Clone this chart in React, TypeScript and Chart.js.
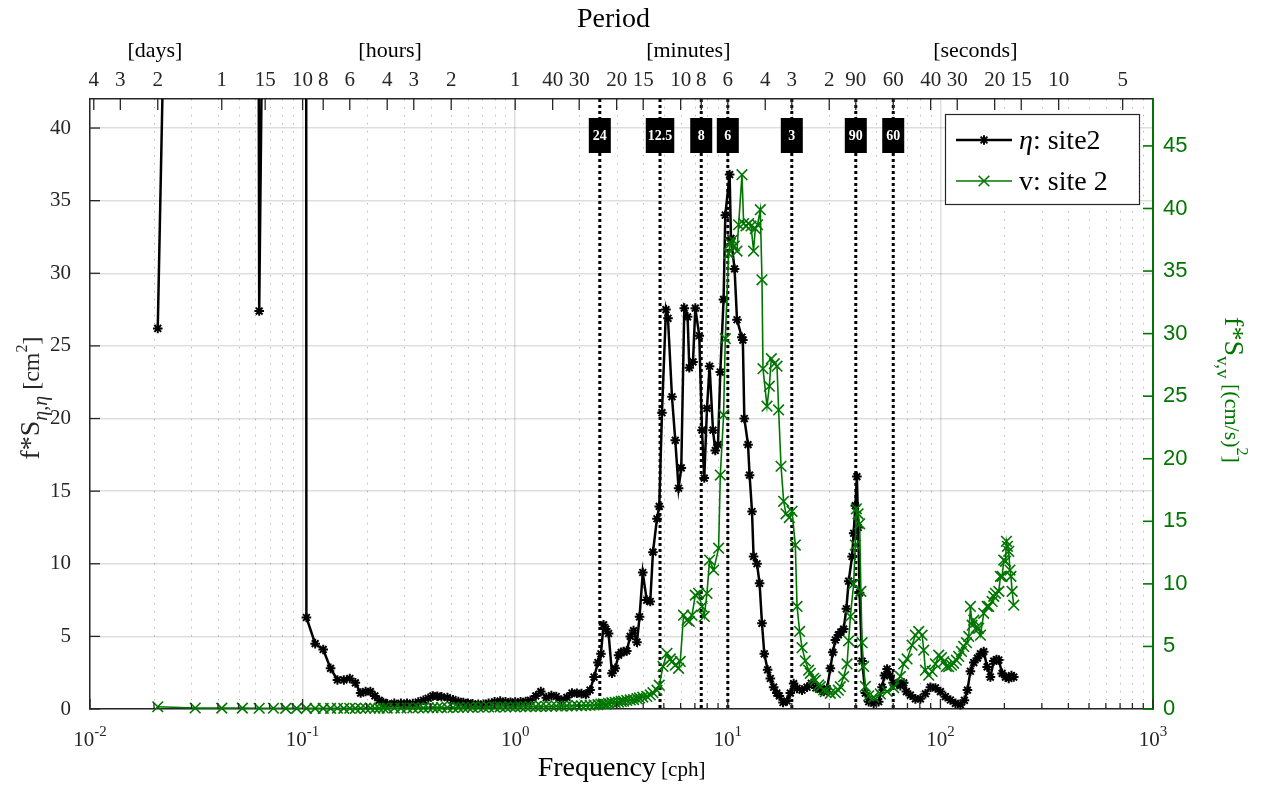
import React, { useEffect, useRef } from 'react';
import { Chart, registerables } from 'chart.js';

Chart.register(...registerables);

// ---------------- data ----------------
// frequency grid (cph) shared by both series at low / mid frequencies
const lowFreq = [0.02083, 0.03125, 0.04167, 0.05208, 0.0625, 0.07292, 0.08333, 0.09375, 0.1042, 0.1146, 0.125, 0.1354, 0.1458, 0.1563, 0.1667, 0.1771, 0.1875, 0.1979, 0.2083, 0.2188, 0.2292, 0.2396, 0.25];
const midFreq = [0.27, 0.29, 0.31, 0.33, 0.35, 0.37, 0.39, 0.41, 0.43, 0.45, 0.48, 0.51, 0.54, 0.57, 0.6, 0.63, 0.67, 0.71, 0.75, 0.8, 0.85, 0.9, 0.95, 1.0, 1.06, 1.12, 1.18, 1.25, 1.32, 1.4, 1.48, 1.56, 1.65, 1.75, 1.85, 1.95, 2.05, 2.15, 2.25, 2.35, 2.45];

// eta: site2 (left axis, cm^2)
const etaLow = [26.2, 154, 400, 600, 27.4, 120, 300, 2000, 6.3, 4.5, 4.1, 2.8, 2.0, 2.0, 2.1, 1.8, 1.1, 1.2, 1.2, 0.9, 0.6, 0.45, 0.35];
const etaMid = [0.39, 0.39, 0.4, 0.38, 0.48, 0.6, 0.74, 0.9, 0.88, 0.84, 0.78, 0.64, 0.52, 0.45, 0.4, 0.36, 0.33, 0.32, 0.4, 0.5, 0.55, 0.5, 0.46, 0.48, 0.5, 0.52, 0.6, 0.9, 1.2, 0.78, 0.92, 0.86, 0.62, 0.8, 1.1, 1.08, 1.06, 1.0, 1.3, 2.2, 3.2];
const etaHighFreq = [2.531, 2.604, 2.667, 2.749, 2.852, 2.955, 3.063, 3.154, 3.233, 3.347,
  3.477, 3.603, 3.738, 3.845, 3.981, 4.157, 4.318, 4.446, 4.643, 4.760,
  4.902, 5.119, 5.231, 5.463, 5.662, 5.868, 6.042, 6.242, 6.470, 6.591,
  6.860, 7.034, 7.342, 7.560, 7.751, 7.981, 8.210, 8.518, 8.734, 8.994,
  9.220, 9.555, 9.732, 10.20, 10.35, 10.76, 11.05, 11.64, 11.77, 11.96,
  12.45, 12.66, 13.00, 13.22, 13.72, 14.11, 14.48, 14.85, 15.39, 15.85,
  16.43, 17.01, 17.48, 18.19, 18.99, 19.68, 20.40, 21.17, 22.35, 23.59,
  24.71, 25.95, 27.25, 28.30, 29.30, 30.37, 31.20, 32.06, 33.11, 34.02,
  35.07, 36.11, 37.03, 38.42, 39.08, 39.81, 40.47, 41.04, 41.67, 42.81,
  44.37, 45.99, 48.55, 51.25, 53.18, 54.53, 56.15, 57.88, 60.11, 62.56,
  64.84, 67.20, 69.18, 72.24, 76.28, 80.52, 85.01, 89.74, 94.74, 100,
  105.6, 111.4, 117.7, 124.2, 129.7, 134.0, 138.4, 143.5, 149.3, 154.3,
  159.9, 165.9, 171.9, 178.2, 183.5, 188.2, 195.2, 202.3, 209.6, 215.8, 221.3];
const etaHighVal = [3.8, 5.8, 5.5, 5.2, 2.46, 2.8, 3.7, 3.9, 3.95, 4.0,
  5.0, 5.4, 4.6, 6.35, 9.4, 7.5, 7.4, 10.8, 13.1, 13.95,
  20.4, 27.5, 26.9, 21.5, 18.5, 15.2, 16.6, 27.6, 27.0, 23.5,
  23.9, 27.6, 25.7, 19.2, 15.9, 20.7, 23.6, 19.2, 17.8, 18.2,
  23.2, 28.2, 34.0, 36.8, 32.4, 30.3, 26.8, 25.6, 25.4, 20.0,
  18.2, 16.1, 13.6, 10.5, 10.0, 8.65, 5.9, 3.8, 2.7, 2.1,
  1.5, 1.1, 0.9, 0.45, 0.55, 1.1, 1.75, 1.42, 1.3, 1.5,
  1.77, 1.45, 1.35, 1.2, 1.4, 2.8, 3.9, 4.75, 5.1, 5.3,
  5.5, 6.9, 8.8, 10.5, 12.1, 14.0, 16.0, 12.5, 8.0, 3.3,
  1.1, 0.5, 0.4, 0.5, 1.5, 2.3, 2.75, 2.3, 1.8, 1.75,
  1.6, 1.8, 1.2, 0.95, 0.7, 0.7, 1.05, 1.5, 1.45, 1.2,
  0.85, 0.62, 0.39, 0.3, 0.6, 1.3, 2.6, 3.2, 3.5, 3.8,
  3.95, 2.9, 2.2, 3.3, 3.4, 3.37, 2.45, 2.2, 2.1, 2.3, 2.2];

// v: site 2 (right axis, (cm/s)^2)
const velLow = [0.18, 0.08, 0.07, 0.07, 0.06, 0.06, 0.05, 0.05, 0.05, 0.05, 0.05, 0.05, 0.06, 0.05, 0.06, 0.05, 0.06, 0.06, 0.07, 0.06, 0.07, 0.08, 0.07];
const velMid = [0.08, 0.07, 0.09, 0.08, 0.1, 0.09, 0.1, 0.11, 0.1, 0.12, 0.11, 0.12, 0.13, 0.12, 0.14, 0.13, 0.15, 0.14, 0.16, 0.15, 0.17, 0.16, 0.18, 0.17, 0.19, 0.18, 0.2, 0.19, 0.21, 0.2, 0.22, 0.24, 0.23, 0.25, 0.24, 0.27, 0.26, 0.28, 0.3, 0.32, 0.35];
const velHighFreq = [2.531, 2.604, 2.667, 2.749, 2.852, 2.955, 3.063, 3.154, 3.233, 3.347,
  3.477, 3.603, 3.738, 3.845, 3.981, 4.157, 4.318, 4.446, 4.643, 4.760,
  4.955, 5.175, 5.363, 5.463, 5.662, 5.868, 5.976, 6.194, 6.427, 6.591,
  6.785, 7.034, 7.287, 7.560, 7.751, 7.981, 8.210, 8.574, 9.052, 9.220,
  9.555, 9.732, 10.09, 10.27, 10.53, 10.73, 11.05, 11.24, 11.66, 11.87,
  12.18, 12.53, 12.86, 13.22, 13.47, 13.81, 14.22, 14.48, 14.64, 15.29,
  15.68, 16.02, 16.55, 17.04, 17.34, 17.80, 18.31, 18.79, 19.47, 20.05,
  20.78, 21.17, 21.77, 22.35, 23.16, 24.00, 24.45, 25.33, 25.81, 26.75,
  27.25, 28.24, 28.77, 30.37, 32.06, 33.11, 33.84, 35.07, 36.39, 37.03,
  37.72, 39.08, 39.81, 40.25, 41.00, 41.71, 42.26, 42.81, 43.56, 44.37,
  45.99, 48.55, 52.20, 56.15, 60.31, 64.84, 67.20, 69.70, 73.58, 76.28,
  79.06, 82.03, 83.47, 85.01, 88.10, 91.41, 94.74, 98.18, 101.1, 103.6,
  106.7, 109.4, 112.7, 115.5, 118.9, 121.9, 125.6, 128.7, 132.6, 135.9,
  138.4, 141.0, 143.5, 147.7, 151.4, 154.3, 159.9, 165.9, 168.8, 175.1,
  178.2, 181.5, 188.2, 191.6, 195.2, 198.6, 202.3, 204.5, 206.7, 209.6,
  212.4, 214.7, 217.5, 221.3];
const velHighVal = [0.4, 0.42, 0.38, 0.45, 0.5, 0.52, 0.55, 0.6, 0.62, 0.68,
  0.72, 0.75, 0.82, 0.88, 0.95, 1.0, 1.12, 1.3, 1.5, 1.9,
  3.4, 4.45, 4.0, 3.78, 3.5, 3.25, 3.8, 7.5, 7.1, 7.0,
  7.5, 9.1, 9.25, 8.2, 7.4, 9.25, 11.9, 11.1, 12.85, 18.7,
  23.5, 29.6, 36.4, 37.2, 37.5, 37.0, 36.6, 38.7, 42.7, 38.8,
  38.6, 38.8, 38.6, 36.6, 38.4, 38.7, 39.9, 34.3, 27.2, 24.2,
  25.8, 28.0, 27.6, 27.4, 23.9, 19.4, 16.6, 15.6, 15.3, 15.8,
  13.1, 8.2, 6.2, 4.9, 3.85, 3.1, 2.85, 2.45, 2.3, 1.92,
  1.78, 1.52, 1.38, 1.25, 1.3, 1.5, 1.78, 2.58, 3.6, 5.45,
  7.4, 10.0, 13.1, 16.0, 15.6, 14.8, 9.4, 5.3, 3.4, 1.8,
  1.05, 0.95, 1.2, 1.4, 1.7, 2.6, 3.6, 4.0, 5.1, 5.9,
  6.2, 5.9, 4.7, 3.1, 2.7, 3.0, 3.6, 4.3, 4.1, 3.78,
  3.4, 3.38, 3.5, 3.65, 3.9, 4.2, 4.6, 5.0, 5.3, 5.8,
  8.2, 6.7, 7.1, 6.5, 6.45, 5.9, 7.65, 8.2, 8.2, 8.6,
  9.0, 9.25, 9.4, 10.6, 10.6, 11.9, 11.8, 13.4, 13.0, 12.6,
  11.1, 10.6, 9.4, 8.3];

// axes
const decades = [0.01, 0.1, 1, 10, 100, 1000];
const decadeExponents = ['-2', '-1', '0', '1', '2', '3'];
const minorMultipliers = [2, 3, 4, 5, 6, 7, 8, 9];
const leftTicks = [0, 5, 10, 15, 20, 25, 30, 35, 40];
const rightTicks = [0, 5, 10, 15, 20, 25, 30, 35, 40, 45];
const periodTickFreq = [1 / 96, 1 / 72, 1 / 48, 1 / 24, 1 / 15, 1 / 10, 1 / 8, 1 / 6, 1 / 4, 1 / 3, 1 / 2, 1,
  1.5, 2, 3, 4, 6, 7.5, 10, 15, 20, 30, 40, 60, 90, 120, 180, 240, 360, 720];
const periodTickLabels = ['4', '3', '2', '1', '15', '10', '8', '6', '4', '3', '2', '1',
  '40', '30', '20', '15', '10', '8', '6', '4', '3', '2', '90', '60', '40', '30', '20', '15', '10', '5'];
const periodGroups = ['[days]', '[hours]', '[minutes]', '[seconds]'];
const periodGroupAnchor = [0.0202, 0.258, 6.52, 146];
const markerFreq = [2.5, 4.8, 7.5, 10, 20, 40, 60];
const markerLabels = ['24', '12.5', '8', '6', '3', '90', '60'];
const seriesNames = ['site2', 'site 2'];

// ---------------- style ----------------
const GREEN = 'rgb(0,118,0)';
const AXIS = '#262626';
const GRID = 'rgba(0,0,0,0.13)';
const SERIF = '"Liberation Serif", "Times New Roman", serif';
const SANS = '"Liberation Sans", Arial, sans-serif';

type Part = { t: string; size: number; italic?: boolean; bold?: boolean; dy?: number };
const fontOf = (p: Part) => `${p.italic ? 'italic ' : ''}${p.bold ? 'bold ' : ''}${p.size}px ${SERIF}`;
function drawRich(ctx: CanvasRenderingContext2D, parts: Part[], x: number, y: number, align: 'left' | 'center') {
  let total = 0;
  const widths = parts.map((p) => {
    ctx.font = fontOf(p);
    const w = ctx.measureText(p.t).width;
    total += w;
    return w;
  });
  let cx = align === 'center' ? x - total / 2 : x;
  ctx.textAlign = 'left';
  ctx.textBaseline = 'alphabetic';
  parts.forEach((p, i) => {
    ctx.font = fontOf(p);
    ctx.fillText(p.t, cx, y + (p.dy || 0));
    cx += widths[i];
  });
}

function seg(ctx: CanvasRenderingContext2D, x1: number, y1: number, x2: number, y2: number) {
  ctx.beginPath();
  ctx.moveTo(x1, y1);
  ctx.lineTo(x2, y2);
  ctx.stroke();
}

const overlay = {
  id: 'overlay',
  beforeDatasetsDraw(chart: any) {
    const { ctx, chartArea: a, scales } = chart;
    const xs = scales.x;
    ctx.save();
    ctx.strokeStyle = 'rgba(0,0,0,0.3)';
    ctx.lineWidth = 1;
    ctx.setLineDash([1.3, 6.7]);
    decades.slice(0, -1).forEach((d) => {
      minorMultipliers.forEach((m) => {
        const px = Math.round(xs.getPixelForValue(d * m)) + 0.5;
        seg(ctx, px, a.top, px, a.bottom);
      });
    });
    ctx.strokeStyle = '#000';
    ctx.lineWidth = 3;
    ctx.setLineDash([3, 3]);
    markerFreq.forEach((f) => {
      const px = xs.getPixelForValue(f);
      seg(ctx, px, a.top, px, a.bottom);
    });
    ctx.restore();
  },
  afterDatasetsDraw(chart: any) {
    const { ctx, chartArea: a, scales } = chart;
    const xs = scales.x;
    ctx.save();
    // inward ticks
    ctx.strokeStyle = AXIS;
    ctx.lineWidth = 1.3;
    decades.forEach((d, i) => {
      const px = xs.getPixelForValue(d);
      seg(ctx, px, a.bottom, px, a.bottom - 10);
      if (i < decades.length - 1) {
        minorMultipliers.forEach((m) => {
          const mx = xs.getPixelForValue(d * m);
          seg(ctx, mx, a.bottom, mx, a.bottom - 6);
        });
      }
    });
    periodTickFreq.forEach((f) => {
      const px = scales.xTop.getPixelForValue(f);
      seg(ctx, px, a.top, px, a.top + 11);
    });
    leftTicks.forEach((v) => {
      const py = scales.y.getPixelForValue(v);
      seg(ctx, a.left, py, a.left + 10, py);
    });
    ctx.strokeStyle = GREEN;
    ctx.lineWidth = 1.6;
    rightTicks.forEach((v) => {
      const py = scales.y2.getPixelForValue(v);
      seg(ctx, a.right, py, a.right - 10, py);
    });

    // period marker labels
    ctx.font = `bold 14px ${SERIF}`;
    ctx.textAlign = 'center';
    ctx.textBaseline = 'middle';
    markerFreq.forEach((f, i) => {
      const px = xs.getPixelForValue(f);
      const w = Math.max(22, ctx.measureText(markerLabels[i]).width + 4);
      ctx.fillStyle = '#000';
      ctx.fillRect(px - w / 2, a.top + 19, w, 35);
      ctx.fillStyle = '#fff';
      ctx.fillText(markerLabels[i], px, a.top + 37);
    });

    // legend
    const lx = 945, ly = 114, lw = 194, lh = 90;
    ctx.fillStyle = '#fff';
    ctx.fillRect(lx, ly, lw, lh);
    ctx.strokeStyle = AXIS;
    ctx.lineWidth = 1.2;
    ctx.strokeRect(lx + 0.5, ly + 0.5, lw, lh);
    const r1 = 140, r2 = 181;
    ctx.strokeStyle = '#000';
    ctx.lineWidth = 2.5;
    seg(ctx, 956, r1, 1012, r1);
    ctx.lineWidth = 2;
    const r = 4.8, c = r * Math.SQRT1_2;
    seg(ctx, 984 - r, r1, 984 + r, r1);
    seg(ctx, 984, r1 - r, 984, r1 + r);
    seg(ctx, 984 - c, r1 - c, 984 + c, r1 + c);
    seg(ctx, 984 - c, r1 + c, 984 + c, r1 - c);
    ctx.strokeStyle = GREEN;
    ctx.lineWidth = 1.6;
    seg(ctx, 956, r2, 1012, r2);
    const g = 7.5 * Math.SQRT1_2;
    seg(ctx, 984 - g, r2 - g, 984 + g, r2 + g);
    seg(ctx, 984 - g, r2 + g, 984 + g, r2 - g);
    ctx.fillStyle = '#000';
    drawRich(ctx, [{ t: 'η', size: 28, italic: true }, { t: ': ' + seriesNames[0], size: 28 }], 1019, r1 + 9, 'left');
    drawRich(ctx, [{ t: 'v: ' + seriesNames[1], size: 28 }], 1019, r2 + 9, 'left');
    ctx.restore();
  },
  afterDraw(chart: any) {
    const { ctx, chartArea: a, scales } = chart;
    const xs = scales.x;
    ctx.save();
    ctx.fillStyle = AXIS;
    // bottom decade labels
    decades.forEach((d, i) => {
      drawRich(ctx, [{ t: '10', size: 21 }, { t: decadeExponents[i], size: 15, dy: -10 }], xs.getPixelForValue(d), a.bottom + 37, 'center');
    });
    // group labels and Period title
    ctx.fillStyle = '#000';
    periodGroups.forEach((gname, i) => {
      drawRich(ctx, [{ t: gname, size: 22 }], scales.xTop.getPixelForValue(periodGroupAnchor[i]), 57, 'center');
    });
    drawRich(ctx, [{ t: 'Period', size: 28 }], (a.left + a.right) / 2 - 8, 27, 'center');
    // x title
    drawRich(ctx, [{ t: 'Frequency', size: 28 }, { t: ' [cph]', size: 21 }], (a.left + a.right) / 2, 776, 'center');
    // left y title
    ctx.save();
    ctx.translate(39, (a.top + a.bottom) / 2 - 6);
    ctx.rotate(-Math.PI / 2);
    ctx.fillStyle = AXIS;
    drawRich(ctx, [
      { t: 'f*S', size: 28 },
      { t: 'η,η', size: 20, italic: true, dy: 8 },
      { t: ' [cm', size: 24 },
      { t: '2', size: 16, dy: -12 },
      { t: ']', size: 24 },
    ], 0, 0, 'center');
    ctx.restore();
    // right y title
    ctx.save();
    ctx.translate(1225, (a.top + a.bottom) / 2 - 14);
    ctx.rotate(Math.PI / 2);
    ctx.fillStyle = GREEN;
    drawRich(ctx, [
      { t: 'f*S', size: 28 },
      { t: 'v,v', size: 19, dy: 8 },
      { t: ' [(cm/s)', size: 22 },
      { t: '2', size: 16, dy: -12 },
      { t: ']', size: 22 },
    ], 0, 0, 'center');
    ctx.restore();
    ctx.restore();
  },
};

const pts = (fs: number[], vs: number[]) => fs.map((f, i) => ({ x: f, y: vs[i] }));

export default function App() {
  const ref = useRef<HTMLCanvasElement>(null);
  useEffect(() => {
    const canvas = ref.current;
    if (!canvas) return;
    const clip = { left: 10, right: 10, top: 0, bottom: 10 };
    const chart = new Chart(canvas, {
      type: 'line',
      data: {
        datasets: [
          {
            label: 'v: site 2',
            data: pts([...lowFreq, ...midFreq, ...velHighFreq], [...velLow, ...velMid, ...velHighVal]),
            xAxisID: 'x',
            yAxisID: 'y2',
            borderColor: GREEN,
            borderWidth: 1.6,
            pointStyle: 'crossRot',
            pointRadius: 7.5,
            pointBorderWidth: 1.6,
            pointBorderColor: GREEN,
            pointBackgroundColor: GREEN,
            tension: 0,
            clip,
            order: 0,
          },
          {
            label: 'η: site2',
            data: pts([...lowFreq, ...midFreq, ...etaHighFreq], [...etaLow, ...etaMid, ...etaHighVal]),
            xAxisID: 'x',
            yAxisID: 'y',
            borderColor: '#000',
            borderWidth: 2.5,
            pointStyle: 'star',
            pointRadius: 4.8,
            pointBorderWidth: 2,
            pointBorderColor: '#000',
            pointBackgroundColor: '#000',
            tension: 0,
            clip,
            order: 1,
          },
        ],
      } as any,
      options: {
        responsive: false,
        devicePixelRatio: 1,
        animation: false,
        layout: { padding: 0 },
        events: [],
        plugins: { legend: { display: false }, tooltip: { enabled: false } },
        scales: {
          x: {
            type: 'logarithmic',
            position: 'bottom',
            min: 0.01,
            max: 1000,
            afterBuildTicks: (s: any) => { s.ticks = decades.map((v) => ({ value: v })); },
            ticks: { display: false },
            grid: { color: GRID, lineWidth: 1.5, drawTicks: false },
            border: { color: AXIS, width: 1.5 },
            afterFit: (s: any) => { s.height = 76; },
          },
          xTop: {
            type: 'logarithmic',
            position: 'top',
            min: 0.01,
            max: 1000,
            afterBuildTicks: (s: any) => { s.ticks = periodTickFreq.map((v) => ({ value: v })); },
            ticks: {
              autoSkip: false,
              maxRotation: 0,
              minRotation: 0,
              padding: 6,
              color: AXIS,
              font: { family: SERIF, size: 21 },
              callback: (_v: any, i: number) => periodTickLabels[i],
            },
            grid: { drawOnChartArea: false, drawTicks: false },
            border: { color: AXIS, width: 1.5 },
            afterFit: (s: any) => { s.height = 99; },
          },
          y: {
            type: 'linear',
            position: 'left',
            min: 0,
            max: 42,
            afterBuildTicks: (s: any) => { s.ticks = leftTicks.map((v) => ({ value: v })); },
            ticks: { color: AXIS, padding: 19, font: { family: SERIF, size: 21 } },
            grid: { color: GRID, lineWidth: 1.5, drawTicks: false },
            border: { color: AXIS, width: 1.5 },
            afterFit: (s: any) => { s.width = 90; },
          },
          y2: {
            type: 'linear',
            position: 'right',
            min: 0,
            max: 48.75,
            afterBuildTicks: (s: any) => { s.ticks = rightTicks.map((v) => ({ value: v })); },
            ticks: { color: GREEN, padding: 10, font: { family: SANS, size: 22 } },
            grid: { drawOnChartArea: false, drawTicks: false },
            border: { color: GREEN, width: 2 },
            afterFit: (s: any) => { s.width = 108; },
          },
        },
      } as any,
      plugins: [overlay],
    });
    return () => chart.destroy();
  }, []);
  return (
    <div style={{ position: 'fixed', left: 0, top: 0, width: 1261, height: 785, background: '#fff' }}>
      <canvas ref={ref} width={1261} height={785} style={{ display: 'block', width: 1261, height: 785 }} />
    </div>
  );
}
